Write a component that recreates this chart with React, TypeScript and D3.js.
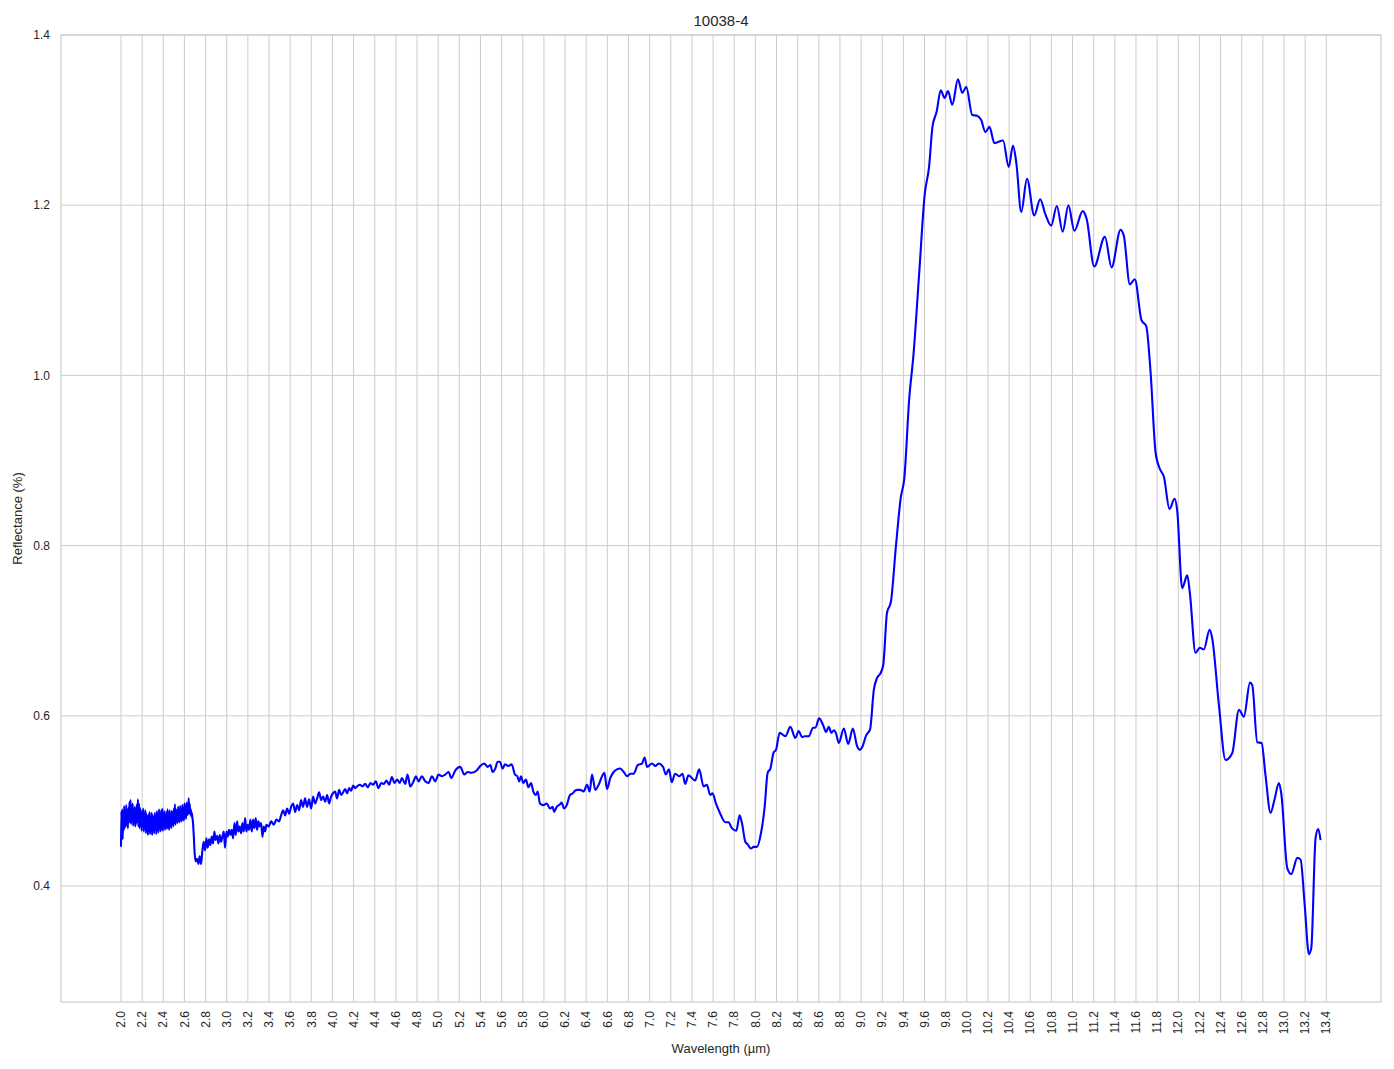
import React from "react";
import * as d3 from "d3";

const title = "10038-4";
const xLabel = "Wavelength (µm)";
const yLabel = "Reflectance (%)";

const xTickLabels = [
  "2.0","2.2","2.4","2.6","2.8","3.0","3.2","3.4","3.6","3.8",
  "4.0","4.2","4.4","4.6","4.8","5.0","5.2","5.4","5.6","5.8",
  "6.0","6.2","6.4","6.6","6.8","7.0","7.2","7.4","7.6","7.8",
  "8.0","8.2","8.4","8.6","8.8","9.0","9.2","9.4","9.6","9.8",
  "10.0","10.2","10.4","10.6","10.8","11.0","11.2","11.4","11.6","11.8",
  "12.0","12.2","12.4","12.6","12.8","13.0","13.2","13.4",
];
const yTickLabels = ["0.4", "0.6", "0.8", "1.0", "1.2", "1.4"];

// 2.0 - 2.68 µm (dense noisy band)
const segBand: [number, number][] = [
  [2.0,0.446],[2.004,0.488],[2.008,0.458],[2.012,0.49],[2.016,0.455],[2.02,0.486],[2.025,0.465],[2.03,0.494],
  [2.035,0.468],[2.04,0.489],[2.045,0.47],[2.05,0.495],[2.055,0.472],[2.06,0.486],[2.065,0.468],[2.07,0.492],
  [2.075,0.474],[2.08,0.499],[2.085,0.476],[2.09,0.501],[2.095,0.473],[2.1,0.494],[2.105,0.478],[2.11,0.497],
  [2.115,0.471],[2.12,0.49],[2.125,0.474],[2.13,0.493],[2.135,0.47],[2.14,0.488],[2.145,0.473],[2.15,0.496],
  [2.155,0.476],[2.16,0.502],[2.165,0.47],[2.17,0.497],[2.175,0.468],[2.18,0.492],[2.185,0.472],[2.19,0.489],
  [2.195,0.465],[2.2,0.486],[2.205,0.47],[2.21,0.491],[2.215,0.464],[2.22,0.484],[2.225,0.468],[2.23,0.489],
  [2.235,0.462],[2.24,0.485],[2.245,0.466],[2.25,0.482],[2.255,0.46],[2.26,0.484],[2.265,0.465],[2.27,0.487],
  [2.275,0.461],[2.28,0.481],[2.285,0.464],[2.29,0.486],[2.295,0.46],[2.3,0.483],[2.305,0.466],[2.31,0.48],
  [2.315,0.462],[2.32,0.486],[2.325,0.467],[2.33,0.482],[2.335,0.461],[2.34,0.488],[2.345,0.466],[2.35,0.484],
  [2.355,0.463],[2.36,0.49],[2.365,0.468],[2.37,0.485],[2.375,0.464],[2.38,0.489],[2.385,0.467],[2.39,0.491],
  [2.395,0.465],[2.4,0.484],[2.405,0.469],[2.41,0.488],[2.415,0.466],[2.42,0.483],[2.425,0.47],[2.43,0.487],
  [2.435,0.467],[2.44,0.49],[2.445,0.469],[2.45,0.485],[2.455,0.466],[2.46,0.489],[2.465,0.471],[2.47,0.484],
  [2.475,0.468],[2.48,0.488],[2.485,0.472],[2.49,0.487],[2.495,0.47],[2.5,0.491],[2.505,0.474],[2.51,0.496],
  [2.515,0.472],[2.52,0.49],[2.525,0.476],[2.53,0.489],[2.535,0.474],[2.54,0.493],[2.545,0.477],[2.55,0.488],
  [2.555,0.475],[2.56,0.494],[2.565,0.478],[2.57,0.49],[2.575,0.476],[2.58,0.495],[2.585,0.479],[2.59,0.492],
  [2.595,0.477],[2.6,0.497],[2.605,0.481],[2.61,0.494],[2.615,0.479],[2.62,0.498],[2.625,0.483],[2.63,0.496],
  [2.635,0.484],[2.64,0.503],[2.645,0.486],[2.65,0.497],[2.655,0.484],[2.66,0.49],[2.665,0.482],[2.67,0.486],
  [2.675,0.48],[2.68,0.476],
];

// 2.69 - 4.64 µm (noisy rise)
const segNoisy: [number, number][] = [
  [2.688,0.46],[2.697,0.438],[2.707,0.429],[2.719,0.432],[2.732,0.426],[2.744,0.435],[2.757,0.426],
  [2.77,0.442],[2.782,0.452],[2.795,0.442],[2.808,0.456],[2.82,0.445],[2.833,0.455],[2.845,0.448],[2.858,0.458],
  [2.871,0.45],[2.883,0.464],[2.896,0.454],[2.909,0.459],[2.921,0.45],[2.934,0.46],[2.946,0.452],[2.959,0.458],
  [2.972,0.464],[2.984,0.445],[2.997,0.464],[3.009,0.458],[3.022,0.466],[3.035,0.46],[3.047,0.466],[3.06,0.456],
  [3.073,0.474],[3.085,0.46],[3.098,0.476],[3.11,0.464],[3.123,0.47],[3.136,0.462],[3.148,0.474],[3.161,0.464],
  [3.174,0.48],[3.186,0.464],[3.199,0.472],[3.211,0.466],[3.224,0.478],[3.237,0.464],[3.249,0.478],[3.262,0.468],
  [3.274,0.48],[3.287,0.466],[3.3,0.476],[3.312,0.47],[3.325,0.474],[3.338,0.458],[3.35,0.47],[3.363,0.464],
  [3.375,0.472],[3.397,0.47],[3.42,0.476],[3.445,0.472],[3.47,0.478],[3.495,0.476],[3.514,0.483],[3.533,0.489],
  [3.552,0.483],[3.571,0.491],[3.59,0.485],[3.609,0.493],[3.628,0.497],[3.647,0.487],[3.666,0.495],[3.685,0.489],
  [3.703,0.501],[3.722,0.493],[3.741,0.503],[3.76,0.493],[3.779,0.502],[3.798,0.491],[3.817,0.505],[3.836,0.497],
  [3.855,0.503],[3.874,0.51],[3.893,0.501],[3.912,0.505],[3.931,0.499],[3.95,0.507],[3.968,0.497],[3.987,0.505],
  [4.006,0.509],[4.025,0.511],[4.044,0.503],[4.063,0.513],[4.082,0.507],[4.101,0.51],[4.12,0.514],[4.139,0.509],
  [4.158,0.515],[4.177,0.512],[4.196,0.518],[4.215,0.515],[4.233,0.517],[4.259,0.519],[4.284,0.517],[4.309,0.52],
  [4.334,0.516],[4.36,0.521],[4.385,0.519],[4.41,0.523],[4.435,0.515],[4.461,0.521],[4.486,0.52],[4.511,0.524],
  [4.536,0.519],[4.562,0.528],[4.587,0.521],[4.612,0.525],[4.637,0.521],
];

// 4.66 - 7.18 µm
const segMid: [number, number][] = [
  [4.657,0.527],[4.688,0.52],[4.71,0.531],[4.736,0.517],[4.767,0.523],[4.789,0.529],[4.815,0.523],[4.846,0.529],
  [4.878,0.523],[4.909,0.521],[4.941,0.529],[4.972,0.523],[5.004,0.531],[5.035,0.529],[5.067,0.531],[5.098,0.534],
  [5.124,0.527],[5.162,0.536],[5.209,0.54],[5.247,0.531],[5.278,0.534],[5.319,0.533],[5.366,0.536],[5.398,0.541],
  [5.436,0.544],[5.468,0.54],[5.493,0.542],[5.515,0.534],[5.54,0.538],[5.562,0.546],[5.584,0.546],[5.61,0.538],
  [5.632,0.543],[5.663,0.541],[5.695,0.543],[5.726,0.531],[5.748,0.529],[5.767,0.523],[5.783,0.529],[5.805,0.521],
  [5.83,0.525],[5.853,0.516],[5.878,0.521],[5.9,0.511],[5.925,0.507],[5.941,0.511],[5.963,0.497],[5.995,0.495],
  [6.026,0.497],[6.058,0.491],[6.083,0.493],[6.096,0.487],[6.121,0.493],[6.153,0.496],[6.168,0.498],[6.19,0.491],
  [6.216,0.495],[6.247,0.507],[6.273,0.509],[6.295,0.512],[6.317,0.513],[6.344,0.513],[6.376,0.511],[6.408,0.519],
  [6.433,0.511],[6.455,0.531],[6.486,0.513],[6.518,0.519],[6.55,0.529],[6.572,0.533],[6.597,0.514],[6.628,0.527],
  [6.66,0.534],[6.691,0.537],[6.723,0.538],[6.755,0.534],[6.786,0.529],[6.818,0.532],[6.849,0.532],[6.887,0.542],
  [6.928,0.544],[6.953,0.551],[6.975,0.54],[7.023,0.544],[7.054,0.541],[7.085,0.544],[7.127,0.54],[7.153,0.531],
  [7.183,0.537],
];

// 7.2 - 9.2 µm
const segDip: [number, number][] = [
  [7.209,0.522],[7.241,0.532],[7.282,0.529],[7.311,0.532],[7.336,0.52],[7.367,0.53],[7.43,0.524],[7.469,0.537],
  [7.51,0.517],[7.541,0.519],[7.573,0.507],[7.595,0.509],[7.627,0.497],[7.668,0.485],[7.715,0.475],[7.747,0.475],
  [7.778,0.468],[7.82,0.465],[7.851,0.483],[7.873,0.474],[7.905,0.452],[7.927,0.449],[7.958,0.444],[7.984,0.446],
  [8.015,0.446],[8.053,0.462],[8.088,0.493],[8.116,0.533],[8.142,0.538],[8.173,0.557],[8.195,0.56],[8.23,0.58],
  [8.284,0.576],[8.331,0.587],[8.378,0.574],[8.41,0.582],[8.442,0.575],[8.467,0.576],[8.505,0.576],[8.546,0.586],
  [8.568,0.586],[8.603,0.597],[8.641,0.589],[8.669,0.581],[8.694,0.587],[8.72,0.58],[8.742,0.583],[8.764,0.579],
  [8.789,0.568],[8.837,0.585],[8.878,0.567],[8.922,0.585],[8.963,0.564],[8.988,0.56],[9.01,0.563],[9.048,0.577],
  [9.085,0.584],[9.121,0.631],[9.153,0.645],[9.184,0.65],[9.21,0.66],
];

// 9.24 - 11.4 µm
const segPeak: [number, number][] = [
  [9.245,0.721],[9.282,0.734],[9.33,0.8],[9.376,0.857],[9.408,0.878],[9.455,0.972],[9.496,1.025],[9.549,1.119],
  [9.602,1.213],[9.643,1.245],[9.675,1.292],[9.715,1.31],[9.753,1.335],[9.79,1.326],[9.822,1.334],[9.863,1.318],
  [9.916,1.348],[9.957,1.332],[9.995,1.339],[10.051,1.306],[10.098,1.305],[10.136,1.3],[10.176,1.286],[10.214,1.292],
  [10.261,1.273],[10.343,1.276],[10.396,1.245],[10.437,1.27],[10.468,1.25],[10.515,1.192],[10.569,1.231],[10.638,1.188],
  [10.694,1.207],[10.741,1.19],[10.798,1.176],[10.851,1.199],[10.907,1.169],[10.961,1.2],[11.017,1.17],[11.096,1.193],
  [11.133,1.184],[11.205,1.128],[11.306,1.163],[11.369,1.127],
];

// 11.45 - 13.35 µm
const segFall: [number, number][] = [
  [11.454,1.171],[11.485,1.164],[11.542,1.107],[11.589,1.113],[11.652,1.065],[11.697,1.058],[11.738,1.004],[11.785,0.91],
  [11.826,0.89],[11.864,0.881],[11.917,0.843],[11.965,0.855],[11.99,0.841],[12.037,0.75],[12.085,0.765],[12.11,0.744],
  [12.163,0.674],[12.204,0.68],[12.242,0.678],[12.296,0.701],[12.321,0.691],[12.384,0.613],[12.447,0.548],[12.51,0.556],
  [12.574,0.607],[12.621,0.599],[12.678,0.639],[12.7,0.636],[12.747,0.569],[12.788,0.568],[12.826,0.529],[12.873,0.486],
  [12.911,0.502],[12.952,0.521],[12.974,0.509],[13.031,0.421],[13.069,0.414],[13.126,0.433],[13.157,0.431],[13.195,0.379],
  [13.236,0.32],[13.258,0.327],[13.299,0.457],[13.324,0.467],[13.346,0.454],
];

const spectrum = [...segBand, ...segNoisy, ...segMid, ...segDip, ...segPeak, ...segFall];

const L = 61, R = 1381, T = 35, B = 1002;
const font = "'Liberation Sans', Arial, sans-serif";
const textColor = "#262626";
const gridColor = "#cccccc";

export default function App() {
  const x = d3.scaleLinear().domain([1.4325, 13.9175]).range([L, R]);
  const y = d3.scaleLinear().domain([0.2637, 1.4]).range([B, T]);
  const line = d3
    .line<[number, number]>()
    .x((d) => x(d[0]))
    .y((d) => y(d[1]))
    .curve(d3.curveMonotoneX);

  return (
    <svg width={1394} height={1069} style={{ position: "absolute", left: 0, top: 0, background: "#fff" }}>
      <rect x={0} y={0} width={1394} height={1069} fill="#fff" />
      {xTickLabels.map((t) => (
        <line key={"gx" + t} x1={x(+t)} x2={x(+t)} y1={T} y2={B} stroke={gridColor} strokeWidth={1} />
      ))}
      {yTickLabels.map((t) => (
        <line key={"gy" + t} x1={L} x2={R} y1={y(+t)} y2={y(+t)} stroke={gridColor} strokeWidth={1} />
      ))}
      <rect x={L} y={T} width={R - L} height={B - T} fill="none" stroke={gridColor} strokeWidth={1.2} />
      <path d={line(spectrum) || ""} fill="none" stroke="#0000ff" strokeWidth={2.1} strokeLinejoin="round" />
      {xTickLabels.map((t) => (
        <text
          key={"tx" + t}
          transform={`translate(${x(+t)},${B + 9}) rotate(-90)`}
          textAnchor="end"
          dy="0.35em"
          fontFamily={font}
          fontSize={12}
          fill={textColor}
        >
          {t}
        </text>
      ))}
      {yTickLabels.map((t) => (
        <text
          key={"ty" + t}
          x={L - 11}
          y={y(+t)}
          dy="0.35em"
          textAnchor="end"
          fontFamily={font}
          fontSize={12}
          fill={textColor}
        >
          {t}
        </text>
      ))}
      <text x={(L + R) / 2} y={1053} textAnchor="middle" fontFamily={font} fontSize={13} fill={textColor}>
        {xLabel}
      </text>
      <text
        transform={`translate(22,${(T + B) / 2}) rotate(-90)`}
        textAnchor="middle"
        fontFamily={font}
        fontSize={13}
        fill={textColor}
      >
        {yLabel}
      </text>
      <text x={(L + R) / 2} y={26} textAnchor="middle" fontFamily={font} fontSize={15} fill={textColor}>
        {title}
      </text>
    </svg>
  );
}
